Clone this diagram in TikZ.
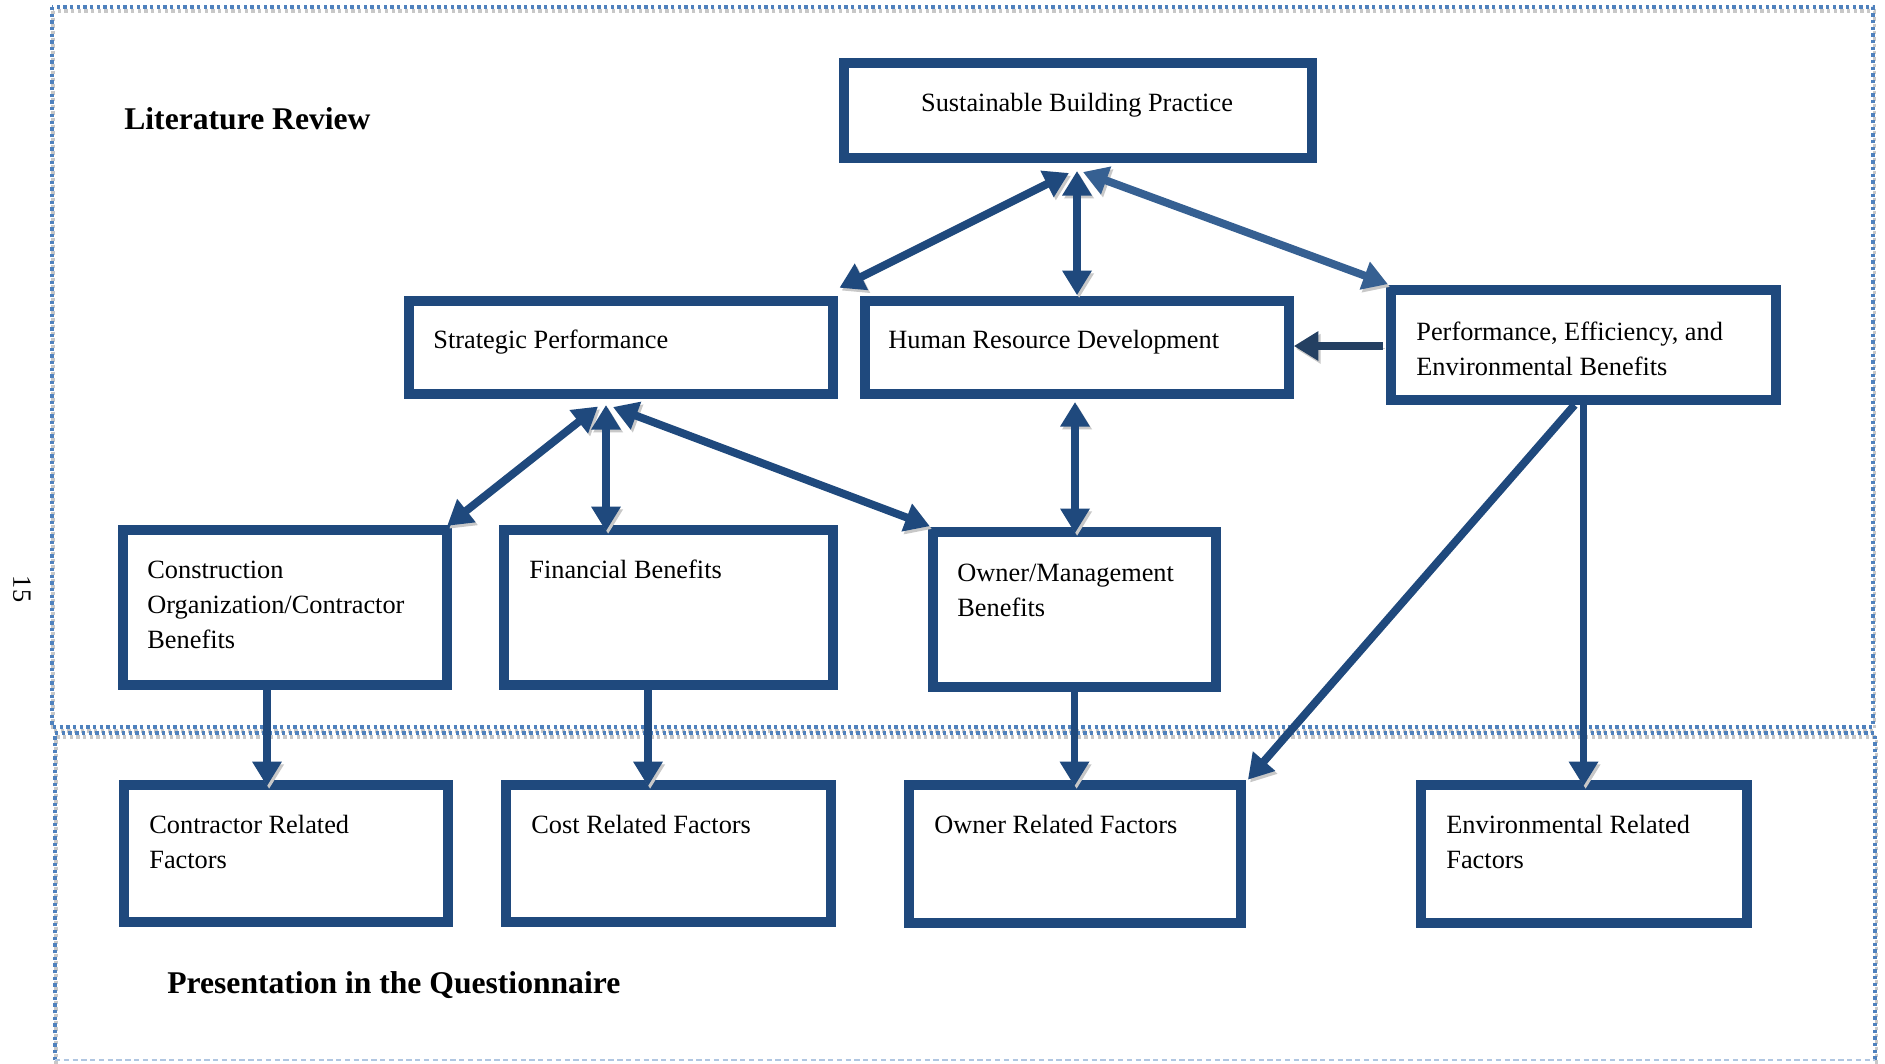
\documentclass[tikz,border=0pt]{standalone}
\usepackage{fontspec}
\setmainfont{Liberation Serif}
\usetikzlibrary{arrows.meta,calc}
\definecolor{boxblue}{RGB}{31,73,125}
\definecolor{lightarrow}{RGB}{54,96,146}
\definecolor{darkarrow}{RGB}{36,64,98}
\definecolor{dotblue}{RGB}{79,129,189}
\definecolor{shade}{RGB}{200,200,200}
\newcommand{\bodyfont}{\fontsize{15pt}{19.9pt}\selectfont}
\newcommand{\headfont}{\fontsize{18pt}{22pt}\selectfont\bfseries}
\begin{document}
\begin{tikzpicture}[x=0.02cm, y=-0.02cm,
  >={Triangle[width=16pt,length=14pt]},
  box/.style={draw=boxblue, line width=5.7pt, fill=white, inner sep=0pt},
  conn/.style={draw=boxblue, line width=4.5pt, shorten >=-3.5pt, preaction={draw=shade, transform canvas={xshift=1.2pt, yshift=-1.6pt}}},
  both/.style={<->},
  lbl/.style={inner sep=0pt, font=\bodyfont, align=left},
  head/.style={inner sep=0pt, font=\headfont, anchor=base west},
  frame/.style={draw=dotblue, line width=1.8pt, dash pattern=on 1.9pt off 1.9pt},
  frameshade/.style={draw=shade, line width=1.8pt, dash pattern=on 1.9pt off 1.9pt, transform canvas={xshift=0.6pt, yshift=-2.3pt}},
]
\fill[white] (0,0) rectangle (1885,1063);
\useasboundingbox (0,0) rectangle (1885,1063);

% frames
\draw[frameshade] (52,7) rectangle (1873,727);
\draw[frame] (52,7) rectangle (1873,727);
\draw[frameshade] (55,1060) -- (55,733) -- (1875,733) -- (1875,1060);
\draw[frame] (55,1060) -- (55,733) -- (1875,733) -- (1875,1060);
\draw[draw=dotblue!45, line width=1pt, dash pattern=on 3pt off 2pt] (55,1060) -- (1875,1060);

% headings and page number
\node[head] (litrev) at (124,129.5) {Literature Review};
\node[head] (quest) at (167,993) {Presentation in the Questionnaire};
\node[inner sep=0pt, font=\bodyfont, rotate=-90] (pgnum) at (22,589) {15};

% boxes
\node[box, minimum width=9.36cm, minimum height=1.9cm] (sbp) at (1078,110.5) {};
\node[box, minimum width=8.48cm, minimum height=1.86cm] (sp) at (621,347.5) {};
\node[box, minimum width=8.48cm, minimum height=1.86cm] (hrd) at (1077,347.5) {};
\node[box, minimum width=7.7cm, minimum height=2.2cm] (pee) at (1583.5,345) {};
\node[box, minimum width=6.48cm, minimum height=3.1cm] (co) at (285,607.5) {};
\node[box, minimum width=6.58cm, minimum height=3.1cm] (fb) at (668.5,607.5) {};
\node[box, minimum width=5.66cm, minimum height=3.1cm] (om) at (1074.5,609.5) {};
\node[box, minimum width=6.48cm, minimum height=2.74cm] (crf) at (286,853.5) {};
\node[box, minimum width=6.5cm, minimum height=2.74cm] (cost) at (668.5,853.5) {};
\node[box, minimum width=6.64cm, minimum height=2.76cm] (orf) at (1075,854) {};
\node[box, minimum width=6.52cm, minimum height=2.76cm] (erf) at (1584,854) {};

% box texts
\node[lbl, anchor=base] (sbp-t) at (1077,111) {Sustainable Building Practice};
\node[lbl, anchor=base west] (sp-t) at (433,348) {Strategic Performance};
\node[lbl, anchor=base west] (hrd-t) at (888,348) {Human Resource Development};
\node[lbl, anchor=north west] (pee-t) at (1416,315.5) {\strut Performance, Efficiency, and\\\strut Environmental Benefits};
\node[lbl, anchor=north west] (co-t) at (147,553.5) {\strut Construction\\\strut Organization/Contractor\\\strut Benefits};
\node[lbl, anchor=base west] (fb-t) at (529,578) {Financial Benefits};
\node[lbl, anchor=north west] (om-t) at (957,556.5) {\strut Owner/Management\\\strut Benefits};
\node[lbl, anchor=north west] (crf-t) at (149,808.5) {\strut Contractor Related\\\strut Factors};
\node[lbl, anchor=base west] (cost-t) at (531,833) {Cost Related Factors};
\node[lbl, anchor=base west] (orf-t) at (934,833) {Owner Related Factors};
\node[lbl, anchor=north west] (erf-t) at (1446,809) {\strut Environmental Related\\\strut Factors};

% connectors
\draw[conn, both] ($(sbp.south)+(-9,10)$) -- ($(sp.north east)+(7,-11)$);
\draw[conn, both] ($(sbp.south)+(-1,8)$) -- ($(hrd.north)+(0,-7)$);
\draw[conn, both, draw=lightarrow] ($(sbp.south)+(5,9)$) -- ($(pee.north west)+(-4,-3)$);
\draw[conn, ->, draw=darkarrow] ($(pee.west)+(-3,1)$) -- ($(hrd.east)+(6,-1.5)$);
\draw[conn, both] ($(sp.south)+(-23,7.5)$) -- ($(co.north east)+(0,-3)$);
\coordinate (s6) at ($(sp.south)+(-15,6)$);
\draw[conn, both] (s6) -- (s6 |- fb.north);
\draw[conn, both] ($(sp.south)+(-8,8)$) -- ($(om.north west)+(-4,-3)$);
\coordinate (s8) at ($(hrd.south)+(-2,3)$);
\draw[conn, both] (s8) -- (s8 |- om.north);
\draw[conn, ->] ($(co.south)+(-18,0)$) -- ($(crf.north)+(-19,0)$);
\draw[conn, ->] ($(fb.south)+(-20.5,0)$) -- ($(cost.north)+(-20.5,0)$);
\draw[conn, ->] (om.south) -- (om.south |- orf.north);
\draw[conn, ->] ($(pee.south)+(-9,0)$) -- ($(orf.north east)+(6,-5)$);
\draw[conn, ->] (pee.south) -- (pee.south |- erf.north);
\end{tikzpicture}
\end{document}
